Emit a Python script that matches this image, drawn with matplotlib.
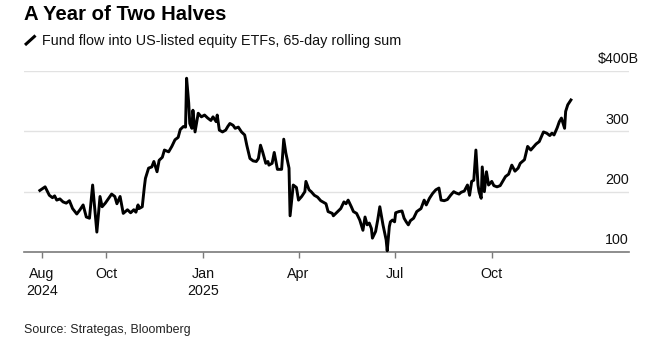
import matplotlib
matplotlib.use("agg")
import matplotlib.pyplot as plt
import pandas as pd

# 65-day rolling sum of fund flows into US-listed equity ETFs, $B
dates = [
    "2024-07-30", "2024-08-04", "2024-08-08", "2024-08-11", "2024-08-13", "2024-08-15",
    "2024-08-18", "2024-08-21", "2024-08-24", "2024-08-27", "2024-08-30", "2024-09-03",
    "2024-09-06", "2024-09-09", "2024-09-12", "2024-09-15", "2024-09-18", "2024-09-22",
    "2024-09-25", "2024-09-27", "2024-09-30", "2024-10-06", "2024-10-09", "2024-10-11",
    "2024-10-14", "2024-10-17", "2024-10-21", "2024-10-24", "2024-10-27", "2024-10-29",
    "2024-10-31", "2024-11-01", "2024-11-04", "2024-11-06", "2024-11-07", "2024-11-10",
    "2024-11-13", "2024-11-15", "2024-11-18", "2024-11-20", "2024-11-23", "2024-11-25",
    "2024-11-29", "2024-12-02", "2024-12-05", "2024-12-08", "2024-12-10", "2024-12-13",
    "2024-12-15", "2024-12-16", "2024-12-18", "2024-12-19", "2024-12-21", "2024-12-22",
    "2024-12-24", "2024-12-27", "2024-12-30", "2025-01-02", "2025-01-05", "2025-01-08",
    "2025-01-10", "2025-01-13", "2025-01-14", "2025-01-16", "2025-01-19", "2025-01-22",
    "2025-01-24", "2025-01-26", "2025-01-29", "2025-01-31", "2025-02-03", "2025-02-06",
    "2025-02-09", "2025-02-11", "2025-02-14", "2025-02-17", "2025-02-20", "2025-02-22",
    "2025-02-24", "2025-02-26", "2025-03-01", "2025-03-03", "2025-03-04", "2025-03-07",
    "2025-03-09", "2025-03-12", "2025-03-14", "2025-03-16", "2025-03-18", "2025-03-20",
    "2025-03-23", "2025-03-24", "2025-03-27", "2025-03-30", "2025-04-01", "2025-04-04",
    "2025-04-07", "2025-04-08", "2025-04-11", "2025-04-13", "2025-04-16", "2025-04-19",
    "2025-04-22", "2025-04-25", "2025-04-27", "2025-04-29", "2025-05-03", "2025-05-04",
    "2025-05-08", "2025-05-11", "2025-05-14", "2025-05-16", "2025-05-18", "2025-05-21",
    "2025-05-23", "2025-05-26", "2025-05-29", "2025-06-01", "2025-06-03", "2025-06-05",
    "2025-06-07", "2025-06-09", "2025-06-10", "2025-06-13", "2025-06-15", "2025-06-17",
    "2025-06-20", "2025-06-23", "2025-06-24", "2025-06-26", "2025-06-27", "2025-06-29",
    "2025-07-01", "2025-07-02", "2025-07-05", "2025-07-08", "2025-07-10", "2025-07-12",
    "2025-07-14", "2025-07-16", "2025-07-19", "2025-07-22", "2025-07-26", "2025-07-29",
    "2025-07-31", "2025-08-03", "2025-08-06", "2025-08-09", "2025-08-12", "2025-08-14",
    "2025-08-17", "2025-08-20", "2025-08-23", "2025-08-26", "2025-08-28", "2025-08-31",
    "2025-09-02", "2025-09-05", "2025-09-08", "2025-09-10", "2025-09-12", "2025-09-14",
    "2025-09-16", "2025-09-18", "2025-09-19", "2025-09-21", "2025-09-22", "2025-09-24",
    "2025-09-26", "2025-09-28", "2025-10-01", "2025-10-03", "2025-10-06", "2025-10-09",
    "2025-10-12", "2025-10-14", "2025-10-17", "2025-10-20", "2025-10-23", "2025-10-26",
    "2025-10-28", "2025-11-01", "2025-11-04", "2025-11-07", "2025-11-10", "2025-11-12",
    "2025-11-15", "2025-11-19", "2025-11-22", "2025-11-25", "2025-11-27", "2025-11-29",
    "2025-12-02", "2025-12-04", "2025-12-06", "2025-12-09", "2025-12-10", "2025-12-12",
    "2025-12-15",
]
flows = [
    202, 208, 194, 190, 193, 186,
    188, 183, 181, 185, 172, 163,
    170, 178, 158, 156, 211, 133,
    192, 175, 181, 196, 192, 180,
    192, 164, 170, 165, 170, 166,
    178, 172, 175, 208, 222, 239,
    241, 250, 233, 252, 257, 269,
    266, 275, 286, 290, 303, 308,
    307, 388, 347, 313, 305, 335,
    299, 330, 324, 327, 322, 318,
    324, 316, 327, 302, 299, 302,
    308, 313, 310, 305, 307, 299,
    294, 277, 255, 251, 250, 255,
    277, 266, 247, 250, 244, 247,
    265, 237, 237, 237, 287, 264,
    239, 160, 211, 207, 186, 192,
    200, 217, 203, 200, 194, 191,
    185, 182, 180, 167, 164, 160,
    167, 172, 183, 180, 186, 175,
    167, 164, 153, 136, 158, 145,
    148, 139, 123, 134, 153, 175,
    145, 120, 102, 142, 150, 153,
    150, 165, 167, 168, 156, 150,
    145, 152, 156, 167, 172, 186,
    178, 189, 197, 203, 206, 186,
    185, 187, 194, 200, 198, 196,
    199, 201, 211, 194, 217, 219,
    269, 211, 200, 189, 241, 200,
    233, 211, 217, 210, 208, 210,
    219, 225, 229, 244, 234, 239,
    247, 253, 275, 269, 275, 279,
    283, 299, 297, 293, 297, 294,
    306, 316, 322, 305, 333, 344,
    352,
]

tick_dates = ["2024-08-01", "2024-10-01", "2025-01-01", "2025-04-01", "2025-07-01", "2025-10-01"]
tick_labels = ["Aug\n2024", "Oct", "Jan\n2025", "Apr", "Jul", "Oct"]
y_levels = [200, 300, 400]
y_labels = ["200", "300", "$400B"]

W, H = 652, 338
plt.rcParams['font.family'] = ['Liberation Sans', 'DejaVu Sans']

fig = plt.figure(figsize=(W / 100, H / 100), dpi=100)
fig.patch.set_facecolor('white')

# plot area in pixels: x 24..629, y 71 (400) .. 252 (100)
ax = fig.add_axes([24 / W, 1 - 252 / H, (629 - 24) / W, (252 - 71) / H])
ax.set_facecolor('white')

x = pd.to_datetime(dates)
for lv in y_levels:
    ax.axhline(lv, color='#e2e2e2', lw=1.0, zorder=1)
ax.plot(x, flows, color='black', lw=2.1, solid_joinstyle='round', zorder=3, clip_on=False)

ax.set_ylim(100, 400)
ax.set_xlim(pd.Timestamp("2024-07-15"), pd.Timestamp("2026-02-08"))

for s in ['top', 'right', 'left']:
    ax.spines[s].set_visible(False)
ax.spines['bottom'].set_color('#7a7a7a')
ax.spines['bottom'].set_linewidth(1.2)
ax.spines['bottom'].set_zorder(2)

ax.set_yticks([])
ax.set_xticks(pd.to_datetime(tick_dates))
ax.set_xticklabels(tick_labels, fontsize=10.3, color='#111111', linespacing=1.25)
ax.tick_params(axis='x', length=4, width=1.0, color='#7a7a7a', pad=7)

# right side value labels sitting above their gridlines
for lv, lab in zip([100] + y_levels, ["100"] + y_labels):
    dx = 6.8 if lab.endswith("B") else 0
    ax.annotate(lab, xy=(1, lv), xycoords=('axes fraction', 'data'),
                xytext=(dx, 5.5), textcoords='offset points',
                ha='right', va='baseline', fontsize=10.3, color='#111111')

fig.text(24 / W, 1 - 20.5 / H, "A Year of Two Halves", fontsize=14.6, fontweight='bold',
         color='black', ha='left', va='baseline')

# small pen icon in front of the subtitle
fig.add_artist(plt.Line2D([25 / W, 35.5 / W], [1 - 45 / H, 1 - 35.5 / H],
                          color='black', lw=2.2, solid_capstyle='butt'))
fig.text(42.5 / W, 1 - 45 / H, "Fund flow into US-listed equity ETFs, 65-day rolling sum",
         fontsize=10.35, color='#111111', ha='left', va='baseline')

fig.text(24 / W, 1 - 332.5 / H, "Source: Strategas, Bloomberg", fontsize=8.9,
         color='#222222', ha='left', va='baseline')

fig.savefig("out.png", dpi=100, facecolor='white')
